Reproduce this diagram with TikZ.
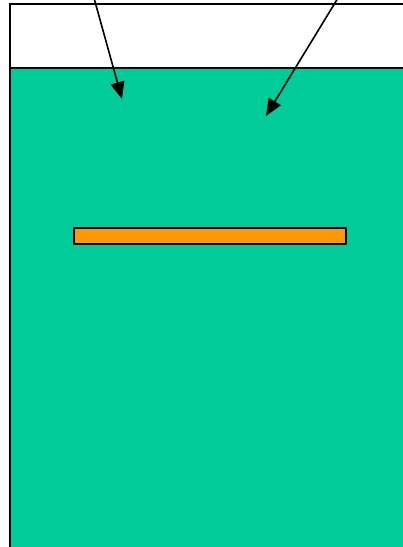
\documentclass[tikz,border=0pt]{standalone}
\usepackage{tikz}
\usetikzlibrary{arrows.meta,positioning}
\definecolor{cWater}{HTML}{00CC99}
\definecolor{cBar}{HTML}{FF9900}
\tikzset{
  arrow/.style={-{Triangle[length=17pt,width=14pt]}, line width=1.6pt, draw=black},
  wall/.style={draw=black, line width=1.8pt},
  bar/.style ={draw=black, line width=1.6pt, fill=cBar, inner sep=0pt, minimum width=272pt, minimum height=16pt},
}
\begin{document}
\begin{tikzpicture}[x=1pt,y=-1pt]
  \useasboundingbox (0,0) rectangle (403,547);
  \fill[white] (0,0) rectangle (403,547);
  % tank
  \draw[wall] (10,4) rectangle (410,560);
  \fill[cWater] (10,68) rectangle (410,560);
  \draw[wall] (10,68) -- (410,68);
  \draw[wall] (10,4) -- (10,560);
  % bar
  \node[bar] (b) at (210,236){};
  % arrows
  \coordinate (s1) at (94,-2);
  \coordinate (t1) at (122,99);
  \coordinate (s2) at (338,-2);
  \coordinate (t2) at (266,116);
  \draw[arrow] (s1) -- (t1);
  \draw[arrow] (s2) -- (t2);
\end{tikzpicture}
\end{document}
